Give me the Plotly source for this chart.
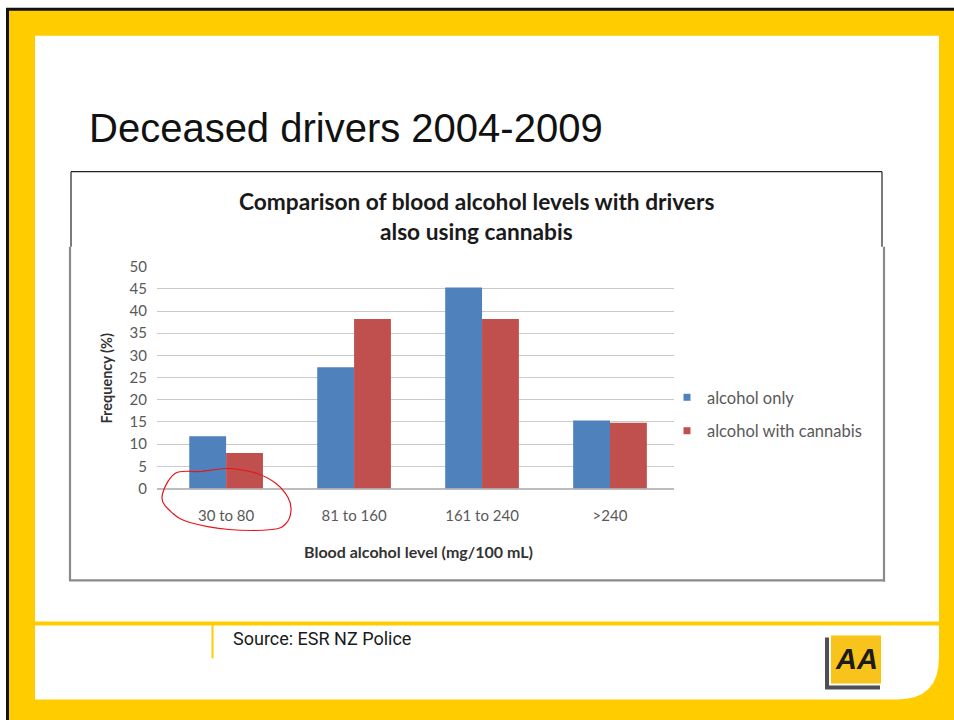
import plotly.graph_objects as go

# ---- data ----
categories = ["30 to 80", "81 to 160", "161 to 240", ">240"]
alcohol_only = [11.8, 27.3, 45.3, 15.3]
alcohol_with_cannabis = [8.0, 38.2, 38.2, 14.8]
series_names = ["alcohol only", "alcohol with cannabis"]
y_ticks = [0, 5, 10, 15, 20, 25, 30, 35, 40, 45, 50]

W, H = 954, 720
BLUE = "#4f81bd"
RED = "#c0504d"
YELLOW = "#ffcc00"
FONT = "Lato, Open Sans, sans-serif"

# vertical calibration of the capture (observed offset / scale)
V_OFF, V_SCALE = 9.2, 0.9756


def px(x):
    return x / W


def py(y):
    return 1 - ((y - V_OFF) / V_SCALE) / H


def rect(x0, y0, x1, y1, color, layer="below"):
    return dict(type="rect", xref="paper", yref="paper",
                x0=px(x0), x1=px(x1), y0=py(y1), y1=py(y0),
                fillcolor=color, line=dict(width=0), layer=layer)


def line(x0, y0, x1, y1, color, width=1, layer="below"):
    return dict(type="line", xref="paper", yref="paper",
                x0=px(x0), x1=px(x1), y0=py(y0), y1=py(y1),
                line=dict(color=color, width=width), layer=layer)


def smooth_closed_path(pts):
    n = len(pts)
    d = "M %.5f,%.5f" % (px(pts[0][0]), py(pts[0][1]))
    for i in range(n):
        p0 = pts[(i - 1) % n]
        p1 = pts[i]
        p2 = pts[(i + 1) % n]
        p3 = pts[(i + 2) % n]
        c1 = (p1[0] + (p2[0] - p0[0]) / 6, p1[1] + (p2[1] - p0[1]) / 6)
        c2 = (p2[0] - (p3[0] - p1[0]) / 6, p2[1] - (p3[1] - p1[1]) / 6)
        d += " C %.5f,%.5f %.5f,%.5f %.5f,%.5f" % (
            px(c1[0]), py(c1[1]), px(c2[0]), py(c2[1]), px(p2[0]), py(p2[1]))
    return d


fig = go.Figure()
fig.add_trace(go.Bar(x=categories, y=alcohol_only, name=series_names[0],
                     marker=dict(color=BLUE, line=dict(width=0)),
                     showlegend=False, legendgroup="a"))
fig.add_trace(go.Bar(x=categories, y=alcohol_with_cannabis, name=series_names[1],
                     marker=dict(color=RED, line=dict(width=0)),
                     showlegend=False, legendgroup="b"))
# legend entries with small square keys
fig.add_trace(go.Scatter(x=[None], y=[None], mode="markers", name=series_names[0],
                         marker=dict(symbol="square", size=7, color=BLUE),
                         legendgroup="a"))
fig.add_trace(go.Scatter(x=[None], y=[None], mode="markers", name=series_names[1],
                         marker=dict(symbol="square", size=7, color=RED),
                         legendgroup="b"))

shapes = []
# slide frame
shapes.append(rect(6, 7, 960, 740, "#111111"))
shapes.append(rect(9, 10, 960, 740, YELLOW))
shapes.append(rect(35, 35, 939, 621, "white"))
# lower white panel with rounded bottom-right corner
shapes.append(dict(type="path", xref="paper", yref="paper", layer="below",
                   path="M %f,%f L %f,%f L %f,%f Q %f,%f %f,%f L %f,%f Z" % (
                       px(35), py(625), px(939), py(625), px(939), py(657),
                       px(939), py(699), px(897), py(699), px(35), py(699)),
                   fillcolor="white", line=dict(width=0)))
shapes.append(line(212.5, 625, 212.5, 658, YELLOW, 2))
# chart picture border
shapes.append(line(71, 171, 882, 171, "#222222", 1.2))
shapes.append(line(71, 171, 71, 246, "#222222", 1.2))
shapes.append(line(882, 171, 882, 246, "#222222", 1.2))
shapes.append(line(70, 246, 70, 580, "#8a8a8a", 2.2))
shapes.append(line(69, 580, 885, 580, "#8a8a8a", 2.2))
shapes.append(line(884, 246, 884, 581, "#8a8a8a", 2.2))
# AA logo
shapes.append(rect(825, 637, 880, 689, "#4e4e58"))
shapes.append(rect(829, 633, 883, 685, "#fdfdf0"))
shapes.append(rect(831, 635, 881, 683, "#f8c41c"))
# red hand-drawn ring around the first category
ring = [(175, 473), (162, 497), (173, 513), (190, 522), (229, 529), (272, 529),
        (286, 523), (291, 510), (288, 497), (276, 483), (257, 473), (229, 468),
        (201, 471)]
shapes.append(dict(type="path", xref="paper", yref="paper", layer="above",
                   path=smooth_closed_path(ring),
                   line=dict(color="#e8141a", width=1.2)))

annotations = [
    dict(text="Deceased drivers 2004-2009", x=px(87), y=py(127), xanchor="left",
         yanchor="middle", font=dict(family="Liberation Sans, Arial, sans-serif",
                                     size=40, color="#111111")),
    dict(text="<b>Comparison of blood alcohol levels with drivers</b>", x=px(476),
         y=py(201), xanchor="center", yanchor="middle",
         font=dict(family=FONT, size=22.7, color="#1a1a1a")),
    dict(text="<b>also using cannabis</b>", x=px(476), y=py(231),
         xanchor="center", yanchor="middle",
         font=dict(family=FONT, size=22.7, color="#1a1a1a")),
    dict(text="<b>Frequency (%)</b>", x=px(107), y=py(378), textangle=-90,
         xanchor="center", yanchor="middle",
         font=dict(family=FONT, size=14.5, color="#333333")),
    dict(text="<b>Blood alcohol level (mg/100 mL)</b>", x=px(418), y=py(551),
         xanchor="center", yanchor="middle",
         font=dict(family=FONT, size=16, color="#333333")),
    dict(text="Source: ESR NZ Police", x=px(231), y=py(638), xanchor="left",
         yanchor="middle",
         font=dict(family="Roboto, Liberation Sans, sans-serif",
                   size=18, color="#1a1a1a")),
    dict(text="<b><i>AA</i></b>", x=px(856), y=py(659), xanchor="center",
         yanchor="middle",
         font=dict(family="Liberation Sans, Arial, sans-serif", size=29, color="#1c1c1c")),
]
for a in annotations:
    a.setdefault("showarrow", False)
    a.setdefault("xref", "paper")
    a.setdefault("yref", "paper")

fig.update_layout(
    width=W, height=H,
    margin=dict(l=0, r=0, t=0, b=0),
    paper_bgcolor="white",
    plot_bgcolor="rgba(0,0,0,0)",
    barmode="group",
    bargap=0.424,
    bargroupgap=0,
    shapes=shapes,
    annotations=annotations,
    showlegend=True,
    legend=dict(x=px(667), y=py(413.5), xanchor="left", yanchor="middle",
                bgcolor="rgba(0,0,0,0)", borderwidth=0, tracegroupgap=9,
                font=dict(family=FONT, size=16.5, color="#595959")),
    xaxis=dict(domain=[px(157), px(674)], range=[-0.54, 3.5], type="category",
               showgrid=False, showline=False, zeroline=False, ticks="",
               tickfont=dict(family=FONT, size=15, color="#595959"),
               ticklabelstandoff=16, fixedrange=True),
    yaxis=dict(domain=[py(488), py(266)], range=[0, 50], tickvals=y_ticks,
               showgrid=True, gridcolor="#cacaca", gridwidth=1.4,
               zeroline=True, zerolinecolor="#bdbdbd", zerolinewidth=1.6,
               showline=False, ticks="",
               tickfont=dict(family=FONT, size=15, color="#595959"),
               ticklabelstandoff=9, fixedrange=True),
)

fig.write_html(
    "out.html",
    config=dict(displayModeBar=False),
    post_script="var d=document.getElementById('{plot_id}');"
                "d.style.position='fixed';d.style.left='0px';d.style.top='0px';"
                "document.body.style.margin='0';"
                "document.body.style.overflow='hidden';"
                "document.documentElement.style.overflow='hidden';",
)
